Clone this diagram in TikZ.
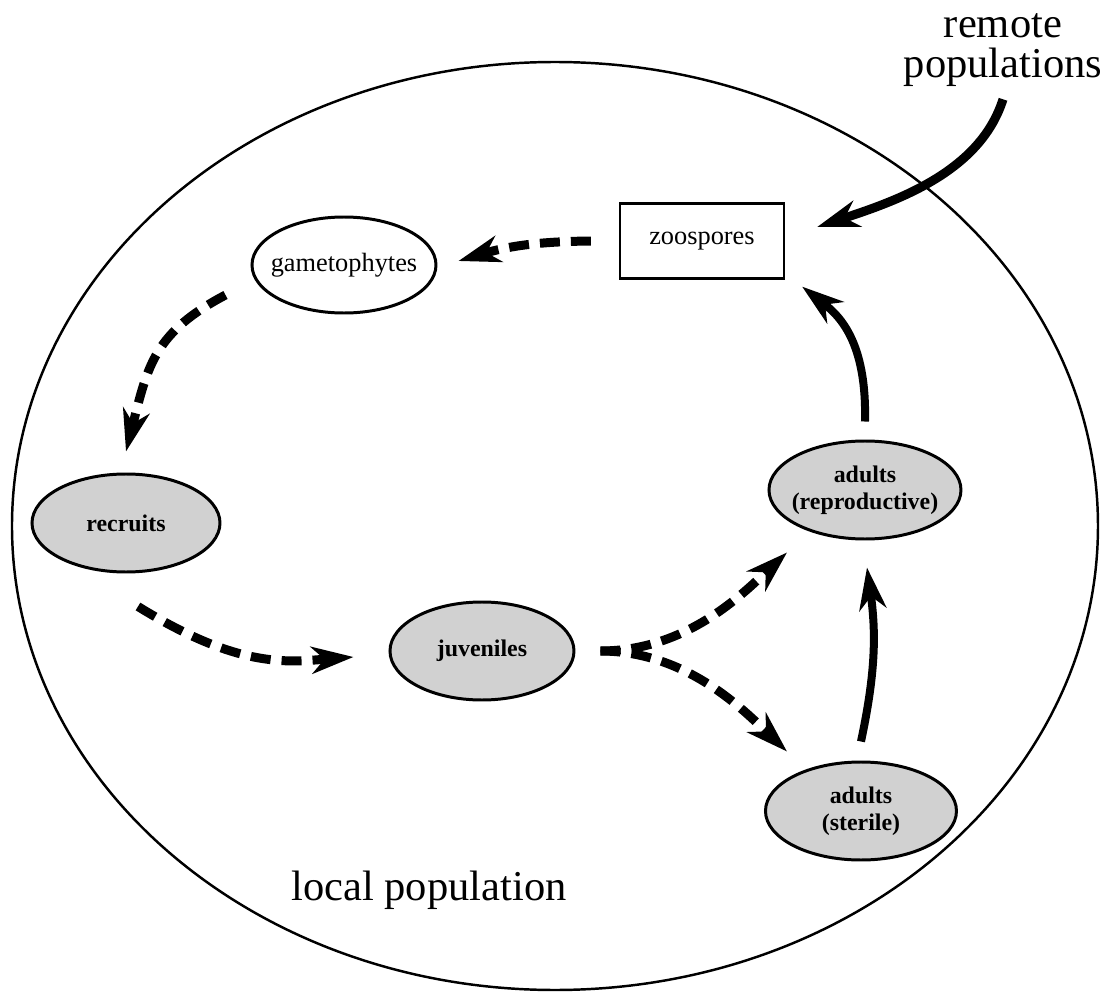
\documentclass[tikz,border=0pt]{standalone}
\usepackage{fontspec}
\setmainfont{Liberation Serif}
\usetikzlibrary{shapes,arrows.meta,positioning}

\begin{document}
\begin{tikzpicture}[
    % GLOBAL CFG
    >={Stealth[length=4.2mm, width=2.7mm, inset=1.3mm]},
    % Styles
    population/.style={% the big local population
        ellipse,
        draw,
        line width=0.7pt,
        minimum width=10.86cm,
        minimum height=9.28cm,
        },
    stage/.style={% plain life stages
        ellipse,
        draw,
        line width=0.85pt,
        inner xsep=-2mm,
        inner ysep=0pt,
        minimum width=1.84cm,
        minimum height=0.96cm,
        font=\fontsize{7.5}{8}\selectfont,
        },
    shaded/.style={% stages of the sporophyte
        stage,
        fill=black!18,
        align=center,
        minimum width=1.88cm,
        minimum height=0.98cm,
        font=\fontsize{6.8}{7.6}\selectfont\bfseries,
        },
    spores/.style={% the zoospore box
        rectangle,
        draw,
        line width=0.65pt,
        minimum width=1.64cm,
        minimum height=0.75cm,
        font=\fontsize{7.5}{8}\selectfont,
        },
    bigtext/.style={% outer labels
        align=center,
        font=\fontsize{12.1}{11.6}\selectfont,
        },
    DashArrow/.style={% dashed transitions
        ->,
        line width=0.09cm,
        dash pattern=on 0.2cm off 0.11cm,
        },
    SolidArrow/.style={% solid transitions
        ->,
        line width=0.08cm,
        },
    ]

    \useasboundingbox (-5.55,-4.72) rectangle (5.55,5.26);

    % Draw the local population
    \node [population] (pop) at (0,0) {};

    % Draw the life stages
    \node [spores] (zoos) at (1.47,2.85) {zoospores};
    \node [stage] (gam) at (-2.11,2.61) {gametophytes};
    \node [shaded] (rec) at (-4.29,0.03) {recruits};
    \node [shaded, minimum width=1.84cm] (juv) at (-0.73,-1.25) {juveniles};
    \node [shaded, minimum width=1.92cm] (repro) at (3.10,0.36) {adults\\(reproductive)};
    \node [shaded, minimum width=1.91cm] (steril) at (3.06,-2.85) {adults\\(sterile)};

    % Outer texts
    \node [bigtext] (remote) at (4.48,4.76) {remote\\populations};
    \node [bigtext, anchor=base] (local) at (-1.26,-3.74) {local population};

    % Inflow from remote populations
    \draw [SolidArrow, line width=0.09cm] (remote.south) .. controls +(-0.23,-0.73) and +(0.79,0.26) .. ([xshift=0.32cm,yshift=0.14cm]zoos.east);

    % Dashed part of the cycle
    \draw [DashArrow] ([xshift=-0.28cm]zoos.west) to[bend right=8] ([xshift=0.21cm,yshift=0.04cm]gam.east);
    \draw [DashArrow] ([xshift=-0.25cm,yshift=-0.30cm]gam.west) .. controls +(-0.71,-0.375) and +(0.22,0.87) .. ([yshift=0.21cm]rec.north);
    \draw [DashArrow] ([xshift=0.12cm,yshift=-0.33cm]rec.south) .. controls +(1.02,-0.63) and +(-0.65,-0.05) .. ([xshift=-0.35cm,yshift=-0.06cm]juv.west);
    \draw [DashArrow] ([xshift=0.25cm]juv.east) .. controls +(0.86,0) and +(-0.44,-0.41) .. ([xshift=-0.78cm,yshift=-0.12cm]repro.south);
    \draw [DashArrow] ([xshift=0.25cm]juv.east) .. controls +(0.86,0) and +(-0.43,0.41) .. ([xshift=-0.74cm,yshift=0.09cm]steril.north);

    % Solid part of the cycle
    \draw [SolidArrow] ([yshift=0.19cm]steril.north) to[bend right=10] ([xshift=0.02cm,yshift=-0.27cm]repro.south);
    \draw [SolidArrow] ([yshift=0.18cm]repro.north) .. controls +(0.02,0.82) and +(0.355,-0.277) .. ([xshift=0.17cm,yshift=-0.07cm]zoos.south east);

\end{tikzpicture}
\end{document}
